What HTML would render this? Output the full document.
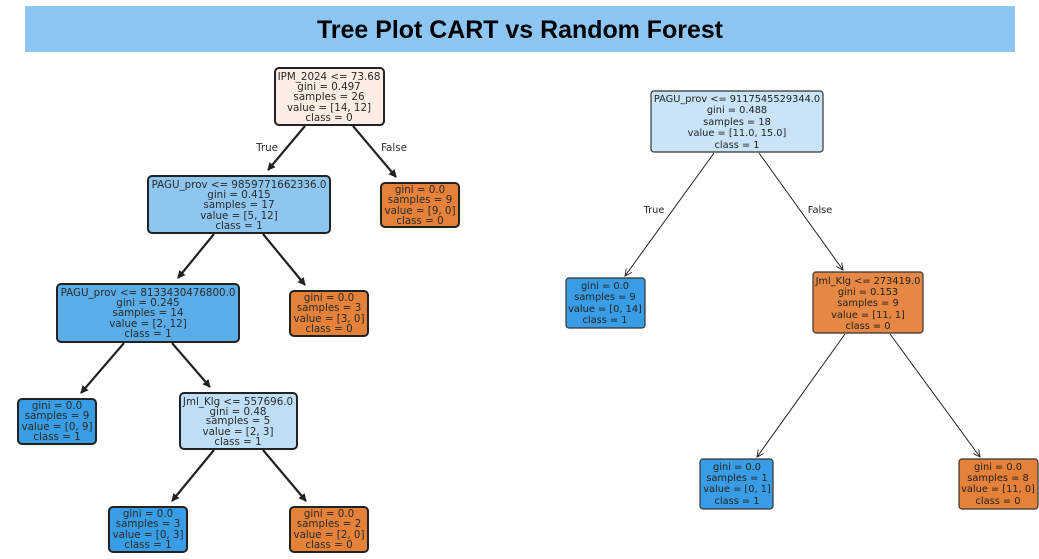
<!DOCTYPE html>
<html><head><meta charset="utf-8"><style>
html,body{margin:0;padding:0;background:#fff;width:1039px;height:559px;overflow:hidden}
svg{display:block}
.l text{font-family:"DejaVu Sans","Liberation Sans",sans-serif;font-size:10.3px;fill:#2a2a2a;text-anchor:middle}
.r text{font-family:"DejaVu Sans","Liberation Sans",sans-serif;font-size:9.8px;fill:#222;text-anchor:middle}
</style></head><body>
<svg width="1039" height="559" viewBox="0 0 1039 559" xmlns="http://www.w3.org/2000/svg">
<defs>
<marker id="a" markerWidth="8" markerHeight="8" refX="7" refY="4" orient="auto" markerUnits="userSpaceOnUse"><path d="M0,0 L8,4 L0,8 z" fill="#222"/></marker>
<marker id="b" markerWidth="8" markerHeight="8" refX="7" refY="4" orient="auto" markerUnits="userSpaceOnUse"><path d="M0,0.5 L7,4 L0,7.5" fill="none" stroke="#222" stroke-width="0.9"/></marker>
</defs>
<rect x="25" y="6" width="990" height="46" fill="#8dc6f2"/>
<text x="520" y="38" text-anchor="middle" font-family="Liberation Sans,sans-serif" font-weight="bold" font-size="25" textLength="406" lengthAdjust="spacingAndGlyphs" fill="#000">Tree Plot CART vs Random Forest</text>

<g class="l">
<g stroke="#222" stroke-width="2.2" marker-end="url(#a)">
<line x1="305" y1="126" x2="268" y2="170"/>
<line x1="353" y1="126" x2="396" y2="177"/>
<line x1="214" y1="234" x2="178" y2="278"/>
<line x1="263" y1="234" x2="305" y2="285"/>
<line x1="124" y1="343" x2="81" y2="393"/>
<line x1="172" y1="343" x2="210" y2="387"/>
<line x1="214" y1="450" x2="172" y2="501"/>
<line x1="263" y1="450" x2="306" y2="501"/>
</g>
<text x="267" y="151">True</text><text x="394" y="151">False</text>
<g stroke="#222" stroke-width="2">
<rect x="275" y="68" width="109" height="57" rx="4" fill="#fbede3"/>
<rect x="148" y="176" width="182" height="57" rx="4" fill="#8ec6f0"/>
<rect x="381" y="183" width="78" height="44" rx="4" fill="#e58139"/>
<rect x="57" y="284" width="182" height="58" rx="4" fill="#5aade9"/>
<rect x="290" y="291" width="78" height="45" rx="4" fill="#e58139"/>
<rect x="18" y="399" width="78" height="45" rx="4" fill="#399de5"/>
<rect x="180" y="393" width="117" height="56" rx="4" fill="#bddef6"/>
<rect x="109" y="507" width="78" height="45" rx="4" fill="#399de5"/>
<rect x="290" y="507" width="78" height="45" rx="4" fill="#e58139"/>
</g>
<text x="329" y="80">IPM_2024 &lt;= 73.68</text><text x="329" y="90">gini = 0.497</text><text x="329" y="100">samples = 26</text><text x="329" y="111">value = [14, 12]</text><text x="329" y="121">class = 0</text>
<text x="239" y="188">PAGU_prov &lt;= 9859771662336.0</text><text x="239" y="198">gini = 0.415</text><text x="239" y="208">samples = 17</text><text x="239" y="219">value = [5, 12]</text><text x="239" y="229">class = 1</text>
<text x="420" y="193">gini = 0.0</text><text x="420" y="203">samples = 9</text><text x="420" y="214">value = [9, 0]</text><text x="420" y="224">class = 0</text>
<text x="148" y="296">PAGU_prov &lt;= 8133430476800.0</text><text x="148" y="306">gini = 0.245</text><text x="148" y="316">samples = 14</text><text x="148" y="327">value = [2, 12]</text><text x="148" y="337">class = 1</text>
<text x="329" y="301">gini = 0.0</text><text x="329" y="311">samples = 3</text><text x="329" y="322">value = [3, 0]</text><text x="329" y="332">class = 0</text>
<text x="57" y="409">gini = 0.0</text><text x="57" y="419">samples = 9</text><text x="57" y="430">value = [0, 9]</text><text x="57" y="440">class = 1</text>
<text x="238" y="405">Jml_Klg &lt;= 557696.0</text><text x="238" y="415">gini = 0.48</text><text x="238" y="424">samples = 5</text><text x="238" y="435">value = [2, 3]</text><text x="238" y="445">class = 1</text>
<text x="148" y="517">gini = 0.0</text><text x="148" y="527">samples = 3</text><text x="148" y="538">value = [0, 3]</text><text x="148" y="548">class = 1</text>
<text x="329" y="517">gini = 0.0</text><text x="329" y="527">samples = 2</text><text x="329" y="538">value = [2, 0]</text><text x="329" y="548">class = 0</text>
</g>

<g class="r">
<g stroke="#222" stroke-width="1" marker-end="url(#b)">
<line x1="714" y1="153" x2="625" y2="276"/>
<line x1="759" y1="153" x2="843" y2="270"/>
<line x1="845" y1="334" x2="757" y2="457"/>
<line x1="890" y1="334" x2="980" y2="457"/>
</g>
<text x="654" y="213">True</text><text x="820" y="213">False</text>
<g stroke="#333" stroke-width="1.2">
<rect x="651" y="91" width="172" height="61" rx="3" fill="#c9e4f8"/>
<rect x="566" y="278" width="79" height="50" rx="3" fill="#399de5"/>
<rect x="813" y="272" width="110" height="61" rx="3" fill="#e68743"/>
<rect x="700" y="459" width="73" height="50" rx="3" fill="#399de5"/>
<rect x="959" y="459" width="79" height="50" rx="3" fill="#e58139"/>
</g>
<text x="737" y="102">PAGU_prov &lt;= 9117545529344.0</text><text x="737" y="113">gini = 0.488</text><text x="737" y="125">samples = 18</text><text x="737" y="136">value = [11.0, 15.0]</text><text x="737" y="148">class = 1</text>
<text x="605" y="289">gini = 0.0</text><text x="605" y="300">samples = 9</text><text x="605" y="312">value = [0, 14]</text><text x="605" y="323">class = 1</text>
<text x="868" y="284">Jml_Klg &lt;= 273419.0</text><text x="868" y="295">gini = 0.153</text><text x="868" y="306">samples = 9</text><text x="868" y="318">value = [11, 1]</text><text x="868" y="329">class = 0</text>
<text x="737" y="470">gini = 0.0</text><text x="737" y="481">samples = 1</text><text x="737" y="492">value = [0, 1]</text><text x="737" y="504">class = 1</text>
<text x="998" y="470">gini = 0.0</text><text x="998" y="481">samples = 8</text><text x="998" y="492">value = [11, 0]</text><text x="998" y="504">class = 0</text>
</g>
</svg>
</body></html>
